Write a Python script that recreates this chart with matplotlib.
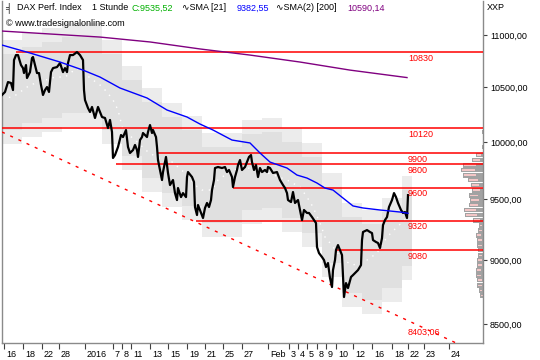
# ============================================================
# DAX Perf. Index, 1 hour bars, with SMA lines, support levels,
# trend line and a volume profile on the right side
# ============================================================

import numpy as np
import matplotlib
matplotlib.use("Agg")
import matplotlib.pyplot as plt
from matplotlib.ticker import FixedLocator, NullLocator, FuncFormatter
from matplotlib.transforms import ScaledTranslation

plt.rcParams['font.family'] = ['Liberation Sans', 'DejaVu Sans']
plt.rcParams['lines.scale_dashes'] = False

# -----------------------------
# Data (x = hourly bar number)
# -----------------------------
price_bar = [0, 3, 6, 9, 11, 12, 14, 16, 19, 21,
             22, 24, 25, 28, 30, 31, 33, 35, 37, 39,
             41, 43, 45, 47, 49, 51, 55, 58, 61, 63,
             65, 66, 68, 71, 75, 78, 81, 82, 83, 86,
             88, 90, 93, 96, 100, 103, 106, 108, 110, 111,
             113, 116, 119, 121, 124, 126, 128, 131, 133, 135,
             136, 138, 140, 141, 145, 146, 148, 150, 151, 154,
             155, 156, 158, 160, 161, 164, 166, 168, 171, 173,
             175, 176, 179, 181, 184, 185, 186, 190, 192, 193,
             195, 196, 199, 201, 203, 205, 207, 209, 210, 212,
             213, 216, 220, 223, 225, 227, 230, 231, 233, 235,
             236, 238, 240, 243, 245, 247, 249, 250, 252, 254,
             256, 258, 260, 263, 265, 266, 268, 271, 275, 278,
             281, 283, 285, 286, 289, 291, 293, 296, 298, 300,
             302, 305, 307, 310, 312, 314, 315, 317, 320, 322,
             324, 326, 328, 330, 331, 333, 334, 336, 338, 340,
             342, 344, 346, 349, 351, 354, 356, 359, 360, 361,
             365, 368, 370, 371, 374, 376, 378, 380, 381, 383,
             385, 387, 390, 392, 394, 396, 399, 401, 403, 405,
             406]
price_val = [10427, 10455, 10548, 10539, 10473, 10757, 10805, 10805, 10709, 10680,
             10633, 10709, 10586, 10642, 10776, 10786, 10709, 10633, 10633, 10520,
             10427, 10473, 10501, 10455, 10642, 10680, 10690, 10728, 10642, 10680,
             10642, 10728, 10805, 10805, 10834, 10805, 10757, 10473, 10380, 10306,
             10270, 10316, 10215, 10316, 10224, 10215, 10124, 10197, 10088, 9857,
             9883, 9954, 10061, 10043, 10106, 9954, 9901, 9927, 9972, 9927,
             9866, 10016, 10043, 10079, 10043, 10088, 10151, 10079, 10106, 10043,
             9954, 9839, 9752, 9665, 9734, 9866, 9726, 9622, 9665, 9553,
             9494, 9596, 9519, 9553, 9519, 9691, 9734, 9691, 9648, 9435,
             9368, 9452, 9385, 9343, 9427, 9469, 9435, 9494, 9579, 9665,
             9769, 9778, 9769, 9778, 9734, 9752, 9691, 9605, 9691, 9752,
             9795, 9839, 9752, 9778, 9821, 9866, 9883, 9821, 9752, 9795,
             9691, 9769, 9734, 9752, 9734, 9778, 9769, 9726, 9734, 9665,
             9622, 9596, 9553, 9494, 9477, 9562, 9469, 9494, 9410, 9326,
             9410, 9385, 9385, 9351, 9326, 9301, 9104, 9055, 9023, 8999,
             8943, 8975, 8856, 8785, 8919, 8999, 9080, 9120, 9080, 9039,
             8707, 8816, 8777, 8864, 8879, 8903, 8919, 8959, 9161, 9227,
             9243, 9227, 9218, 9161, 9145, 9137, 9096, 9177, 9284, 9326,
             9351, 9435, 9494, 9553, 9519, 9469, 9410, 9385, 9393, 9343,
             9535.52]

sma21_bar = [0, 28, 58, 81, 98, 118, 145, 165, 185, 198, 211, 230, 248, 258,
             268, 285, 295, 305, 315, 323, 331, 341, 351, 361, 378, 398, 406]
sma21_val = [10902, 10825, 10738, 10661, 10595, 10492, 10399, 10288, 10224, 10160,
             10106, 10016, 9990, 9901, 9821, 9769, 9708, 9682, 9639, 9596,
             9579, 9511, 9444, 9427, 9410, 9393, 9382.55]

sma200_bar = [0, 98, 148, 198, 248, 298, 348, 405]
sma200_val = [11039, 10980, 10932, 10864, 10805, 10738, 10661, 10590.14]

# white dotted middle line of the grey channel
mid_bar = [0, 11, 28, 53, 63, 75, 91, 98, 105, 111, 116, 121, 133, 146, 156, 170,
           183, 193, 200, 210, 216, 226, 240, 258, 285, 298, 305, 311, 318, 323,
           328, 341, 351, 365, 375, 385, 395, 405]
mid_val = [10399, 10408, 10520, 10595, 10595, 10680, 10567, 10520, 10455, 10380,
           10288, 10106, 10016, 9910, 9857, 9822, 9726, 9622, 9579, 9579,
           9665, 9726, 9778, 9752, 9665, 9605, 9519, 9435, 9301, 9186,
           9137, 8999, 8959, 8999, 9055, 9186, 9268, 9343]

# grey channel blocks (start bar of each block)
band_bar = [0, 20, 40, 60, 80, 100, 120, 140, 160, 180, 200,
            220, 240, 260, 280, 300, 320, 340, 360, 380, 400]
band_end = 410
band_outer_hi = [10951, 11020, 11069, 11118, 11118, 10951, 10699, 10492, 10353, 10233, 10079,
                 10079, 10197, 10215, 10124, 9990, 9726, 9469, 9410, 9511, 9700]
band_inner_hi = [10815, 10883, 10931, 10980, 10980, 10815, 10567, 10362, 10224, 10106, 9954,
                 9954, 10070, 10088, 9999, 9866, 9605, 9351, 9292, 9393, 9579]
band_inner_lo = [10106, 10169, 10215, 10260, 10260, 10106, 9874, 9682, 9553, 9444, 9301,
                 9301, 9410, 9427, 9343, 9218, 8975, 8738, 8684, 8777, 8951]
band_outer_lo = [9981, 10043, 10088, 10133, 10133, 9981, 9752, 9562, 9435, 9326, 9186,
                 9186, 9292, 9309, 9227, 9104, 8864, 8630, 8577, 8668, 8840]

# support / resistance levels
level_val = [10830, 10120, 9900, 9800, 9600, 9320, 9080]
level_start = [14, 0, 155, 114, 231, 194, 335]
level_lab = ['10830', '10120', '9900', '9800', '9600', '9320', '9080']

# trend line
trend_bar = [0, 480]
trend_val = [10088, 8268]
trend_lab = '8403,06'
trend_lab_val = 8403.06

# volume profile (price level, width in bars)
prof_val = [10088, 9954, 9883, 9839, 9795, 9752, 9708, 9665, 9622, 9579,
            9536, 9494, 9452, 9410, 9368, 9326, 9284, 9243, 9202, 9161,
            9120, 9080, 9039, 8999, 8959, 8919, 8879, 8840, 8800, 8761, 8722]
prof_w = [1, 1, 7, 11, 20, 22, 20, 15, 12, 11,
          14, 13, 14, 19, 18, 10, 4, 5, 7, 6,
          6, 5, 5, 6, 6, 7, 7, 6, 6, 4, 3]

# axis ticks
tick_bar = [2, 21, 40, 57, 83, 111, 120, 129, 148, 166, 185, 203, 221, 240,
            266, 287, 296, 305, 315, 324, 334, 351, 370, 390, 406, 422, 447]
tick_lab = ['16', '18', '22', '28', '2016', '7', '8', '11', '13', '15', '19', '21',
            '25', '27', 'Feb', '3', '4', '5', '8', '9', '10', '12', '16', '18',
            '22', '23', '24']
ytick_val = [8500, 9000, 9500, 10000, 10500, 11000]

# -----------------------------
# Figure
# -----------------------------
W, H = 540, 360
fig = plt.figure(figsize=(5.4, 3.6), dpi=100)
ax = fig.add_axes([2 / W, 17 / H, 481 / W, 342 / H])
ax.set_yscale('log')
ax.set_xlim(0, 481)
ax.set_ylim(8357, 11339)

# grey channel
bx = np.append(band_bar, band_end)
ax.fill_between(bx, np.append(band_outer_lo, band_outer_lo[-1]),
                np.append(band_outer_hi, band_outer_hi[-1]),
                step='post', color='#ececec', lw=0, zorder=1)
ax.fill_between(bx, np.append(band_inner_lo, band_inner_lo[-1]),
                np.append(band_inner_hi, band_inner_hi[-1]),
                step='post', color='#e0e0e0', lw=0, zorder=1)
ax.plot(mid_bar, mid_val, color='white', lw=1.0, dashes=(1, 4), zorder=2)

# volume profile
pv = np.array(prof_val, dtype=float)
pw = np.array(prof_w, dtype=float)
ax.barh(pv, pw, left=481 - pw, height=pv * 0.0044, color='#a2a2a2', zorder=2)
ax.barh(pv, pw * 0.6, left=481 - pw + 1, height=pv * 0.0010, color='#f3c6c6', zorder=2)

# levels
ax.hlines(level_val, level_start, 481, color='#ff0000', lw=1.1, zorder=3)
lab_off = ScaledTranslation(0, -1.5 / 100, fig.dpi_scale_trans)
for v, s in zip(level_val, level_lab):
    ax.text(406, v, s, color='#ff0000', fontsize=6.5, ha='left', va='top',
            transform=ax.transData + lab_off, zorder=6)
ax.text(406, trend_lab_val, trend_lab, color='#ff0000', fontsize=6.5,
        ha='left', va='bottom', zorder=6)

# trend line
ax.plot(trend_bar, trend_val, color='#ff0000', lw=1.0, dashes=(2.2, 4.3), zorder=3)

# price and moving averages
ax.plot(price_bar, price_val, color='black', lw=1.6, zorder=4)
ax.plot(sma21_bar, sma21_val, color='#0000ff', lw=1.0, zorder=5)
ax.plot(sma200_bar, sma200_val, color='#800080', lw=1.0, zorder=5)

# -----------------------------
# Axes styling
# -----------------------------
ax.spines['top'].set_visible(False)
for side in ['left', 'right', 'bottom']:
    ax.spines[side].set_color('#8a8a8a')
    ax.spines[side].set_linewidth(1.0)

ax.yaxis.tick_right()
ax.yaxis.set_major_locator(FixedLocator(ytick_val))
ax.yaxis.set_minor_locator(NullLocator())
ax.yaxis.set_major_formatter(FuncFormatter(lambda v, p: f"{v:.2f}".replace('.', ',')))
ax.tick_params(axis='y', direction='out', length=3, width=0.8, color='#404040',
               pad=2, labelsize=6.5)

ax.set_xticks(tick_bar)
ax.set_xticklabels(tick_lab)
ax.xaxis.set_minor_locator(NullLocator())
ax.tick_params(axis='x', direction='out', length=4, width=0.8, color='#404040',
               pad=1, labelsize=6.5)
shift = ScaledTranslation(2 / 100, 0, fig.dpi_scale_trans)
for lbl in ax.get_xticklabels():
    lbl.set_ha('left')
    lbl.set_transform(lbl.get_transform() + shift)

# -----------------------------
# Header texts
# -----------------------------
def head(x, y, s, c='black'):
    fig.text(x / W, 1 - y / H, s, color=c, fontsize=6.5, ha='left', va='center')

head(5, 8, '╡')
head(17, 8, 'DAX Perf. Index')
head(92, 8, '1 Stunde')
head(132, 8, 'C:9535,52', '#00b000')
head(182, 8, '∿SMA [21]')
head(237, 8, '9382,55', '#0000ff')
head(276, 8, '∿SMA(2) [200]')
head(347, 8, '10590,14', '#800080')
head(6, 23, '© www.tradesignalonline.com')
head(487, 8, 'XXP')

fig.savefig('out.png', dpi=100)
